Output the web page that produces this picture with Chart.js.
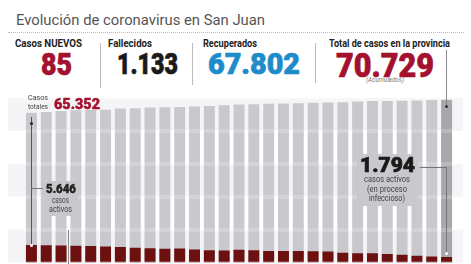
<!DOCTYPE html>
<html>
<head>
<meta charset="utf-8">
<title>Evolución de coronavirus en San Juan</title>
<script src="https://cdn.jsdelivr.net/npm/chart.js"></script>
<style>
    body { margin: 0; width: 471px; height: 264px; overflow: hidden; background: #fff; position: relative; font-family: Roboto, "Liberation Sans", sans-serif; }
    .t { position: absolute; white-space: nowrap; line-height: 1; transform-origin: left top; }
    .title { left: 16px; top: 13px; font-size: 15.5px; color: #555; }
    .dots { position: absolute; left: 8px; top: 32px; width: 456px; border-top: 1px dotted #bbb; }
    .lbl { top: 37.6px; font-size: 11px; font-weight: bold; color: #222; }
    .num { font-weight: 900; -webkit-text-stroke: 0.7px currentColor; }
    .small { font-size: 9.5px; color: #444; }
    .vl { position: absolute; width: 1px; }
    .hl { position: absolute; height: 1px; background: #777; }
    .box { position: absolute; background: #c9c9cd; }
    .dot { position: absolute; width: 3px; height: 3px; border-radius: 2px; }
    #wrap { position: absolute; left: 0; top: 97px; }
</style>
</head>
<body>
    <div id="wrap"><canvas id="grafico" width="471" height="180"></canvas></div>

    <div class="t title" data-w="249">Evolución de coronavirus en San Juan</div>
    <div class="dots"></div>

    <!-- cabecera -->
    <div class="t lbl" style="left:15px" data-w="67">Casos NUEVOS</div>
    <div class="t lbl" style="left:108px" data-w="44">Fallecidos</div>
    <div class="t lbl" style="left:203px" data-w="54">Recuperados</div>
    <div class="t lbl" style="left:329px" data-w="121">Total de casos en la provincia</div>

    <div class="t num" style="left:41px; top:49px; font-size:31px; color:#a3112e" data-w="31">85</div>
    <div class="t num" style="left:117px; top:50px; font-size:29.5px; color:#1a1a1a" data-w="61">1.133</div>
    <div class="t num" style="left:208px; top:50px; font-size:29.5px; color:#1e8cc8" data-w="92">67.802</div>
    <div class="t num" style="left:336px; top:47.6px; font-size:34px; color:#a3112e" data-w="98">70.729</div>
    <div class="t" style="left:366px; top:77px; font-size:7px; font-style:italic; color:#777" data-w="38">(Acumulados)</div>

    <div class="vl" style="left:100px; top:43px; height:45px; background:#bbb"></div>
    <div class="vl" style="left:192px; top:43px; height:42px; background:#bbb"></div>
    <div class="vl" style="left:315px; top:43px; height:40px; background:#bbb"></div>
    <div class="vl" style="left:446px; top:50px; height:56px; background:#888"></div>
    <div class="dot" style="left:445px; top:105px; background:#333"></div>

    <!-- anotaciones del grafico -->
    <div class="t small" style="left:28px; top:94px; font-size:7.5px" data-w="20">Casos</div>
    <div class="t small" style="left:28px; top:102.5px; font-size:7.5px" data-w="20">totales</div>
    <div class="t num" style="left:54px; top:97.2px; font-size:14px; color:#a3112e; -webkit-text-stroke:0.4px #a3112e" data-w="46">65.352</div>

    <div class="vl" style="left:31px; top:117px; height:128px; background:#555"></div>
    <div class="dot" style="left:30px; top:122px; background:#222"></div>
    <div class="dot" style="left:30px; top:244px; background:#fff"></div>
    <div class="hl" style="left:31px; top:188px; width:12px"></div>

    <div class="box" style="left:43px; top:181px; width:35px; height:35px"></div>
    <div class="t num" style="left:46px; top:182.3px; font-size:13px; color:#222; -webkit-text-stroke:0.4px #222" data-w="30">5.646</div>
    <div class="t small" style="left:52px; top:195px" data-w="17">casos</div>
    <div class="t small" style="left:49px; top:204px" data-w="23">activos</div>
    <div class="vl" style="left:68px; top:230px; height:34px; background:#888"></div>

    <div class="box" style="left:357px; top:154px; width:61px; height:52px"></div>
    <div class="t num" style="left:360px; top:155.3px; font-size:21px; color:#1a1a1a" data-w="55">1.794</div>
    <div class="t small" style="left:364px; top:174px" data-w="46">casos activos</div>
    <div class="t small" style="left:367px; top:184px" data-w="40">(en proceso</div>
    <div class="t small" style="left:369px; top:193px" data-w="36">infeccioso)</div>
    <div class="hl" style="left:420px; top:167px; width:26px"></div>
    <div class="vl" style="left:446px; top:167px; height:86px; background:#777"></div>
    <div class="dot" style="left:445px; top:252px; background:#fff"></div>

    <script>
        const dias = ['1', '2', '3', '4', '5', '6', '7', '8', '9', '10', '11', '12', '13', '14', '15',
                      '16', '17', '18', '19', '20', '21', '22', '23', '24', '25', '26', '27', '28', '29'];
        const casosTotales = [65352, 65635, 66060, 66343, 66484, 66626, 67050, 67192, 67475, 67616,
                              67758, 67899, 68182, 68465, 68748, 68890, 69031, 69173, 69314, 69456,
                              69597, 69739, 70022, 70163, 70200, 70305, 70446, 70588, 70729];
        const casosActivos = [5646, 5610, 5550, 5440, 5330, 5220, 5000, 4770, 4660, 4440,
                              4550, 4220, 4000, 3890, 4110, 4000, 3770, 3770, 3750, 3660,
                              3550, 3220, 3000, 2990, 2780, 2550, 2220, 2000, 1794];

        const colorTotales = dias.map((d, i) => i === dias.length - 1 ? '#a8a8ac' : '#c9c9cd');

        // franjas claras de fondo
        const bandas = {
            id: 'bandas',
            beforeDraw(chart) {
                const y = chart.scales.yg;
                const ctx = chart.ctx;
                ctx.save();
                ctx.fillStyle = '#f5f5f7';
                [[4, 5], [2, 3], [0, 1]].forEach(b => {
                    const top = y.getPixelForValue(b[1]);
                    const bottom = y.getPixelForValue(b[0]);
                    ctx.fillRect(8, top, 455, bottom - top);
                });
                ctx.restore();
            }
        };

        new Chart(document.getElementById('grafico'), {
            type: 'bar',
            data: {
                labels: dias,
                datasets: [
                    { label: 'Casos activos', data: casosActivos, backgroundColor: '#6d1010', yAxisID: 'yA', order: 0, barPercentage: 0.74, categoryPercentage: 1 },
                    { label: 'Casos totales', data: casosTotales, backgroundColor: colorTotales, yAxisID: 'yT', order: 1, barPercentage: 0.74, categoryPercentage: 1 }
                ]
            },
            options: {
                responsive: false,
                animation: false,
                layout: { padding: { left: 24, right: 17, top: 1, bottom: 0 } },
                plugins: { legend: { display: false }, tooltip: { enabled: false } },
                scales: {
                    x: {
                        stacked: true,
                        grid: { display: false, drawTicks: false },
                        border: { display: false },
                        ticks: { font: { size: 7 }, color: '#c0c0c0', padding: 3, maxRotation: 0, autoSkip: false }
                    },
                    yT: { display: false, min: 3180, max: 71452 },
                    yA: { display: false, min: 0, max: 53140 },
                    yg: {
                        position: 'right', min: 0, max: 5,
                        ticks: { display: false, stepSize: 1 },
                        grid: { color: 'rgba(255,255,255,0.2)', lineWidth: 4, drawTicks: false, z: 1 },
                        border: { display: false }
                    }
                }
            },
            plugins: [bandas]
        });

        function ajustar() {
            document.querySelectorAll('[data-w]').forEach(el => {
                const w = el.getBoundingClientRect().width;
                el.style.transform = 'scaleX(' + (el.dataset.w / w) + ')';
            });
        }
        if (document.fonts && document.fonts.ready) {
            document.fonts.ready.then(ajustar);
        } else {
            ajustar();
        }
    </script>
</body>
</html>
